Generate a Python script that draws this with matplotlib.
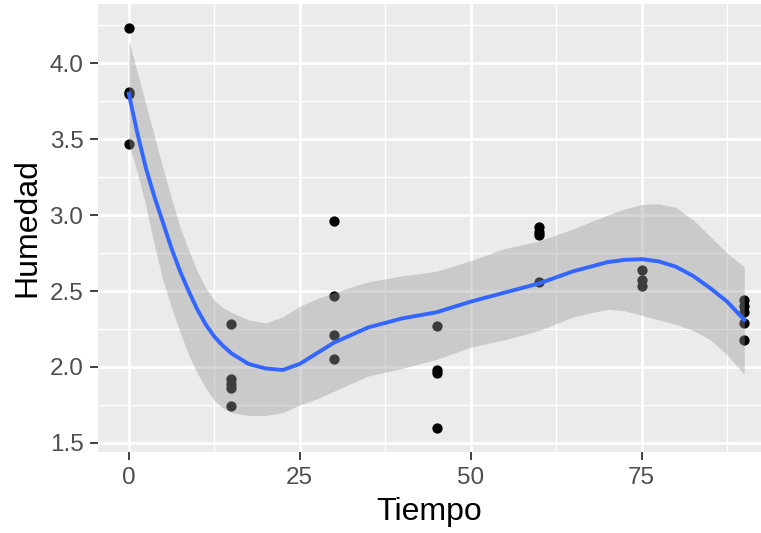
import matplotlib

matplotlib.use("Agg")
import matplotlib.pyplot as plt

# observed points: (tiempo, humedad)
TIEMPO = [0, 0, 0, 0,
          15, 15, 15, 15, 15,
          30, 30, 30, 30,
          45, 45, 45, 45,
          60, 60, 60, 60,
          75, 75, 75,
          90, 90, 90, 90, 90]
HUMEDAD = [4.23, 3.81, 3.80, 3.47,
           2.28, 1.92, 1.89, 1.86, 1.74,
           2.96, 2.47, 2.21, 2.05,
           2.27, 1.98, 1.96, 1.60,
           2.92, 2.89, 2.87, 2.56,
           2.64, 2.57, 2.53,
           2.44, 2.40, 2.36, 2.29, 2.18]

# smoother and its band
SMOOTH_X = [0, 1.25, 2.5, 3.75, 5, 6.25, 7.5, 8.75, 10, 11.25, 12.5, 13.75,
            15, 17.5, 20, 22.5, 25, 27.5, 30, 35, 40, 45, 50, 55, 60, 65,
            70, 72.5, 75, 77.5, 80, 82.5, 85, 87.5, 90]
SMOOTH_Y = [3.80, 3.54, 3.31, 3.12, 2.95, 2.78, 2.63, 2.50, 2.38, 2.28,
            2.20, 2.14, 2.09, 2.02, 1.99, 1.98, 2.02, 2.09, 2.16, 2.26,
            2.32, 2.36, 2.43, 2.49, 2.55, 2.63, 2.69, 2.705, 2.71, 2.695,
            2.66, 2.60, 2.52, 2.43, 2.31]
SMOOTH_HI = [4.15, 3.94, 3.73, 3.52, 3.31, 3.11, 2.92, 2.77, 2.63, 2.52,
             2.44, 2.39, 2.36, 2.31, 2.29, 2.33, 2.40, 2.45, 2.49, 2.56,
             2.60, 2.63, 2.70, 2.78, 2.83, 2.91, 3.00, 3.04, 3.07, 3.075,
             3.05, 2.97, 2.86, 2.75, 2.66]
SMOOTH_LO = [3.47, 3.28, 3.06, 2.80, 2.57, 2.39, 2.23, 2.08, 1.96, 1.86,
             1.78, 1.73, 1.70, 1.68, 1.68, 1.70, 1.75, 1.79, 1.84, 1.94,
             1.99, 2.05, 2.13, 2.18, 2.24, 2.33, 2.38, 2.37, 2.34, 2.31,
             2.28, 2.24, 2.18, 2.08, 1.95]

X_TICKS = [0, 25, 50, 75]
Y_TICKS = [1.5, 2.0, 2.5, 3.0, 3.5, 4.0]

plt.rcParams["font.family"] = ["Liberation Sans", "DejaVu Sans"]

fig = plt.figure(figsize=(7.61, 5.33), dpi=100)
ax = fig.add_axes([0.1288, 0.152, 0.8712, 0.8405])
ax.set_facecolor("#EBEBEB")
for side in ax.spines.values():
    side.set_visible(False)

ax.set_xlim(-4.5, 92.45)
ax.set_ylim(1.44, 4.39)

# grid: minor first, then major
for xv in [12.5, 37.5, 62.5, 87.5]:
    ax.axvline(xv, color="white", lw=1.0, zorder=0)
for yv in [1.75, 2.25, 2.75, 3.25, 3.75, 4.25]:
    ax.axhline(yv, color="white", lw=1.0, zorder=0)
for xv in X_TICKS:
    ax.axvline(xv, color="white", lw=2.0, zorder=0)
for yv in Y_TICKS:
    ax.axhline(yv, color="white", lw=2.0, zorder=0)

ax.plot(TIEMPO, HUMEDAD, "o", color="black", markersize=7.4,
        markeredgewidth=0, zorder=2)
ax.fill_between(SMOOTH_X, SMOOTH_LO, SMOOTH_HI, color="#999999",
                alpha=0.4, linewidth=0, zorder=3)
ax.plot(SMOOTH_X, SMOOTH_Y, color="#3366FF", lw=2.8, zorder=4,
        solid_joinstyle="round")

ax.set_xticks(X_TICKS)
ax.set_xticklabels([str(t) for t in X_TICKS])
ax.set_yticks(Y_TICKS)
ax.set_yticklabels([f"{t:.1f}" for t in Y_TICKS])
ax.tick_params(axis="both", colors="#333333", length=5.5, width=1.3,
               labelsize=17.5, labelcolor="#4D4D4D", pad=5)

ax.set_xlabel("Tiempo", fontsize=23, color="black", labelpad=6)
ax.set_ylabel("Humedad", fontsize=23, color="black", labelpad=5)

fig.savefig("out.png", dpi=100)
